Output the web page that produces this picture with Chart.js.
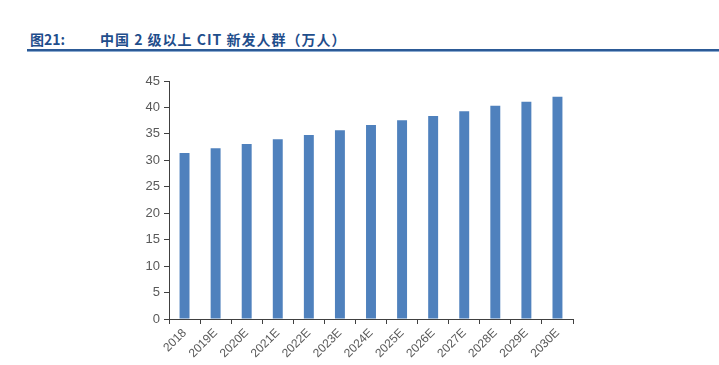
<!DOCTYPE html>
<html><head><meta charset="utf-8">
<script src="https://cdn.jsdelivr.net/npm/chart.js@4"></script>
<style>
html,body{margin:0;padding:0;background:#fff;width:719px;height:365px;overflow:hidden;}
#title{position:absolute;left:30px;top:29px;font-family:"Noto Sans CJK SC",sans-serif;font-weight:bold;font-size:14px;color:#1f4e8c;white-space:nowrap;}
#title .num{position:absolute;left:0;top:0;}
#title .txt{position:absolute;left:70px;top:0;letter-spacing:1px;}
#rule{position:absolute;left:27px;top:49px;width:692px;height:2px;background:#2c5a96;border-bottom:1px solid #8aaad0;}
#wrap{position:absolute;left:0;top:0;width:719px;height:365px;}
</style></head><body>
<div id="title"><span class="num">图21:</span><span class="txt">中国 2 级以上 CIT 新发人群（万人）</span></div>
<div id="rule"></div>
<div id="wrap"><canvas id="c" width="719" height="365"></canvas></div>
<script>
const categories = ["2018","2019E","2020E","2021E","2022E","2023E","2024E","2025E","2026E","2027E","2028E","2029E","2030E"];
const values = [31.4,32.3,33.1,34.0,34.8,35.7,36.7,37.6,38.4,39.3,40.3,41.1,42.0];
const yTicks = [0,5,10,15,20,25,30,35,40,45];

new Chart(document.getElementById('c'), {
  type:'bar',
  data:{labels:categories,datasets:[{data:values,backgroundColor:'#4f81bd',borderWidth:0,barPercentage:0.32,categoryPercentage:1}]},
  options:{
    responsive:false,animation:false,
    layout:{padding:{left:0,right:146,top:81,bottom:0}},
    plugins:{legend:{display:false},tooltip:{enabled:false}},
    scales:{
      x:{
        grid:{drawOnChartArea:false,drawTicks:true,tickLength:5,color:'#404040'},
        border:{color:'#404040',width:1},
        ticks:{color:'#595959',font:{family:'Liberation Sans',size:12},minRotation:45,maxRotation:45,padding:2},
        afterFit(s){s.height=46;}
      },
      y:{
        min:0,max:45,
        grid:{drawOnChartArea:false,drawTicks:true,tickLength:5,color:'#404040'},
        border:{color:'#404040',width:1},
        ticks:{color:'#595959',font:{family:'Liberation Sans',size:13},stepSize:5,padding:4},
        afterBuildTicks(s){s.ticks=yTicks.map(v=>({value:v}));},
        afterFit(s){s.width=169;}
      }
    }
  }
});
</script>
</body></html>
